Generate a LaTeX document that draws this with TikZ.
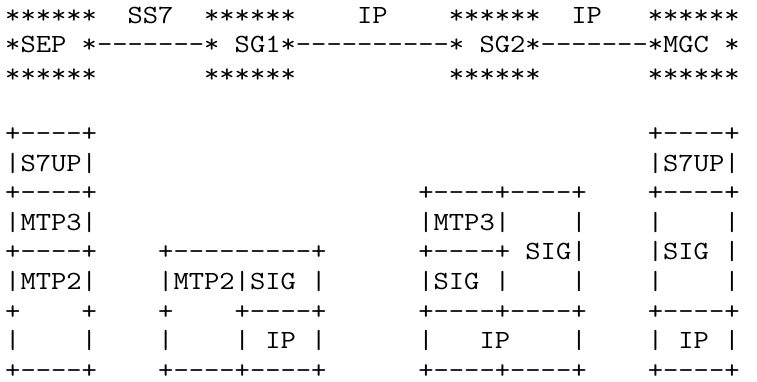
\documentclass[tikz,border=0pt]{standalone}
\usepackage{fontspec}
\begin{document}
\begin{tikzpicture}[x=1pt,y=1pt,
  asciirow/.style={anchor=base west,inner sep=0pt,outer sep=0pt,
    font=\fontsize{26.2}{29.6}\selectfont\ttfamily\frenchspacing,text=black}]
\useasboundingbox[fill=white] (0,0) rectangle (757,-381);
\def\bl#1{-23-29.6*#1}
\newcommand\arow[1]{\scalebox{1.134}[1]{#1}}
\node[asciirow] (r0)  at (5.2,{\bl{0}})  {\arow{******~~SS7~~******~~~~IP~~~~******~~IP~~~******}};
\node[asciirow] (r1)  at (5.2,{\bl{1}})  {\arow{*SEP~*-{}-{}-{}-{}-{}-{}-*~SG1*-{}-{}-{}-{}-{}-{}-{}-{}-{}-*~SG2*-{}-{}-{}-{}-{}-{}-*MGC~*}};
\node[asciirow] (r2)  at (5.2,{\bl{2}})  {\arow{******~~~~~~~******~~~~~~~~~~******~~~~~~~******}};
\node[asciirow] (r4)  at (5.2,{\bl{4}})  {\arow{+-{}-{}-{}-+~~~~~~~~~~~~~~~~~~~~~~~~~~~~~~~~~~~~+-{}-{}-{}-+}};
\node[asciirow] (r5)  at (5.2,{\bl{5}})  {\arow{|S7UP|~~~~~~~~~~~~~~~~~~~~~~~~~~~~~~~~~~~~|S7UP|}};
\node[asciirow] (r6)  at (5.2,{\bl{6}})  {\arow{+-{}-{}-{}-+~~~~~~~~~~~~~~~~~~~~~+-{}-{}-{}-+-{}-{}-{}-+~~~~+-{}-{}-{}-+}};
\node[asciirow] (r7)  at (5.2,{\bl{7}})  {\arow{|MTP3|~~~~~~~~~~~~~~~~~~~~~|MTP3|~~~~|~~~~|~~~~|}};
\node[asciirow] (r8)  at (5.2,{\bl{8}})  {\arow{+-{}-{}-{}-+~~~~+-{}-{}-{}-{}-{}-{}-{}-{}-+~~~~~~+-{}-{}-{}-+~SIG|~~~~|SIG~|}};
\node[asciirow] (r9)  at (5.2,{\bl{9}})  {\arow{|MTP2|~~~~|MTP2|SIG~|~~~~~~|SIG~|~~~~|~~~~|~~~~|}};
\node[asciirow] (r10) at (5.2,{\bl{10}}) {\arow{+~~~~+~~~~+~~~~+-{}-{}-{}-+~~~~~~+-{}-{}-{}-+-{}-{}-{}-+~~~~+-{}-{}-{}-+}};
\node[asciirow] (r11) at (5.2,{\bl{11}}) {\arow{|~~~~|~~~~|~~~~|~IP~|~~~~~~|~~~IP~~~~|~~~~|~IP~|}};
\node[asciirow] (r12) at (5.2,{\bl{12}}) {\arow{+-{}-{}-{}-+~~~~+-{}-{}-{}-+-{}-{}-{}-+~~~~~~+-{}-{}-{}-+-{}-{}-{}-+~~~~+-{}-{}-{}-+}};
\end{tikzpicture}
\end{document}
